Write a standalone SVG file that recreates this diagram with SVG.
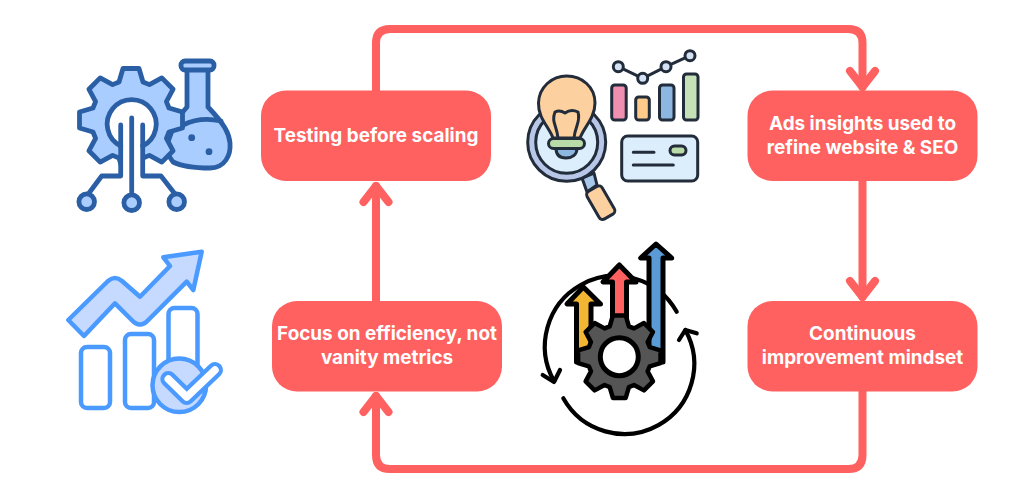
<svg xmlns="http://www.w3.org/2000/svg" width="1024" height="489" viewBox="0 0 1024 489">
<style>
.lbl{font-family:"Inter","Open Sans","Liberation Sans",sans-serif;font-weight:700;font-size:18.9px;fill:#fff;text-anchor:middle}
.nd{fill:#fe615f}
.cn{fill:none;stroke:#fe615f;stroke-width:8;stroke-linecap:round;stroke-linejoin:round}
.a{stroke:#2b5fa5;stroke-width:4.8;stroke-linejoin:round;stroke-linecap:round}
.b{stroke:#4a9aff;stroke-width:4.5;stroke-linejoin:round;stroke-linecap:round}
.c{stroke:#222c3a;stroke-width:3;stroke-linejoin:round;stroke-linecap:round}
.d{stroke:#000;stroke-width:5;stroke-linejoin:round;stroke-linecap:round}
.e{stroke:#000;stroke-width:4.2;stroke-linejoin:round;stroke-linecap:round;fill:none}
</style>
<defs>
<polygon id="gear" points="-12,-38 -8,-51.500 8,-51.500 12,-38 18.400,-35.400 30.800,-42.100 42.100,-30.800 35.400,-18.400 38,-12 51.500,-8 51.500,8 38,12 35.400,18.400 42.100,30.800 30.800,42.100 18.400,35.400 12,38 8,51.500 -8,51.500 -12,38 -18.400,35.400 -30.800,42.100 -42.100,30.800 -35.400,18.400 -38,12 -51.500,8 -51.500,-8 -38,-12 -35.400,-18.400 -42.100,-30.800 -30.800,-42.100 -18.400,-35.400"/>
</defs>
<rect width="1024" height="489" fill="#fff"/>
<g id="connectors">
<path class="cn" d="M376 91V43Q376 29 390 29H848.500Q862.500 29 862.500 43V87"/>
<path class="cn" d="M850 71L862.500 87L875 71"/>
<path class="cn" d="M862.500 181V297"/>
<path class="cn" d="M850 281L862.500 297L875 281"/>
<path class="cn" d="M862.500 391V455Q862.500 469 848.500 469H390Q376 469 376 455V396"/>
<path class="cn" d="M363.500 412L376 396L388.500 412"/>
<path class="cn" d="M376 301V186"/>
<path class="cn" d="M363.500 202L376 186L388.500 202"/>
</g>
<g id="node-testing">
<rect class="nd" x="261" y="90.500" width="230" height="90.500" rx="25"/>
<text class="lbl" x="376" y="142">Testing before scaling</text>
</g>
<g id="node-ads">
<rect class="nd" x="747.500" y="90.500" width="230" height="90.500" rx="25"/>
<text class="lbl" x="862.500" y="129.500">Ads insights used to</text>
<text class="lbl" x="862.500" y="153.500">refine website &amp; SEO</text>
</g>
<g id="node-focus">
<rect class="nd" x="272" y="301" width="230" height="90.500" rx="25"/>
<text class="lbl" x="387" y="340">Focus on efficiency, not</text>
<text class="lbl" x="387" y="364">vanity metrics</text>
</g>
<g id="node-continuous">
<rect class="nd" x="747.500" y="301" width="230" height="90.500" rx="25"/>
<text class="lbl" x="862.500" y="340">Continuous</text>
<text class="lbl" x="862.500" y="364">improvement mindset</text>
</g>
<g id="icon-gear-flask">
<path class="a" fill="#a9cdff" d="M187 69V107L176 120L165 150L173 162C185 168 200 168 210 168C225 168 231 155 230 143C229 133 225 125 208 107V69Z"/>
<rect class="a" fill="#a9cdff" x="181" y="61" width="33" height="9" rx="4"/>
<path class="a" fill="none" d="M183 125C195 119 208 118 221 121"/>
<circle cx="191.700" cy="137.700" r="3.400" fill="#2b5fa5"/>
<circle cx="209" cy="151.700" r="3.400" fill="#2b5fa5"/>
<use href="#gear" class="a" fill="#a9cdff" transform="translate(131 120)"/>
<path fill="#fff" d="M120.700 176V147L119 147A24.500 24.500 0 1 1 144 147L142.700 147V176Z"/>
<path class="a" fill="none" d="M120.700 146A24.500 24.500 0 1 1 142.700 146"/>
<path class="a" fill="none" d="M120.700 125V176H101.700L88.300 194"/>
<path class="a" fill="none" d="M142.700 125V176H161L175 194"/>
<path class="a" fill="none" d="M131.700 118V195"/>
<circle class="a" fill="#a9cdff" cx="86.700" cy="201.700" r="7.800"/>
<circle class="a" fill="#a9cdff" cx="131.700" cy="202.700" r="7.800"/>
<circle class="a" fill="#a9cdff" cx="176.700" cy="201.700" r="7.800"/>
</g>
<g id="icon-growth-check">
<rect class="b" fill="#fff" x="81" y="347" width="29" height="61" rx="6"/>
<rect class="b" fill="#fff" x="125" y="334" width="29" height="74" rx="6"/>
<rect class="b" fill="#fff" x="168.500" y="308" width="29" height="70" rx="6"/>
<path class="b" fill="#c6daff" d="M201.700 251.700L163.300 257.300L170 266L140 296.700L122 281Q115 275 108 281L68.300 320L84 336L115 303.300L131.700 320Q140 329 148.300 320L186.700 281.700L193.300 290Z"/>
<circle class="b" fill="#c6daff" cx="179.300" cy="385.300" r="26.800"/>
<path d="M168.300 379L186.700 397L215 370" fill="none" stroke="#4a9aff" stroke-width="16" stroke-linecap="round" stroke-linejoin="round"/>
<path d="M168.300 379L186.700 397L215 370" fill="none" stroke="#fff" stroke-width="7.500" stroke-linecap="round" stroke-linejoin="round"/>
</g>
<g id="icon-bulb-analytics">
<path class="c" fill="#a9c7e8" d="M582 178L594 173L597 185L587 192Z"/>
<rect class="c" fill="#fdd0a0" x="592" y="186.700" width="17.500" height="32" rx="4" transform="rotate(-30 600.700 202.700)"/>
<circle class="c" fill="#b8c6e8" cx="566.700" cy="142.300" r="39"/>
<circle class="c" fill="#dcedfb" cx="566.700" cy="142.300" r="31"/>
<path class="c" fill="#fdd0a0" d="M553 138C549 127 538 118 538.500 103C539 87 552 76 566.700 76C582 76 595 87 595 103C595 118 584 127 580 138Z"/>
<path class="c" fill="none" d="M558 138C557 126 551 122 555 112C559 110 562 111 565 113C569 110 574 110 578 112C581 122 575 126 574 138"/>
<path class="c" fill="#8cb7e0" d="M556 148H577C577 155 572 158 566 158C560 158 556 155 556 148Z"/>
<rect class="c" fill="#b9dba8" x="548.500" y="138.500" width="36" height="10" rx="5"/>
<rect class="c" fill="#f08fb0" x="611.700" y="85" width="14.500" height="35" rx="3"/>
<rect class="c" fill="#fdca8a" x="635.700" y="97" width="13.600" height="23" rx="3"/>
<rect class="c" fill="#8cb7e0" x="659.500" y="85" width="14.500" height="35" rx="3"/>
<rect class="c" fill="#c6e0b8" x="683.500" y="74" width="14.500" height="46" rx="3"/>
<path class="c" fill="none" d="M618.300 66.700L642.700 78.300L666 66.700L690 55.700"/>
<circle class="c" fill="#d5e2f5" cx="618.300" cy="66.700" r="5"/>
<circle class="c" fill="#d5e2f5" cx="642.700" cy="78.300" r="5"/>
<circle class="c" fill="#d5e2f5" cx="666" cy="66.700" r="5"/>
<circle class="c" fill="#d5e2f5" cx="690" cy="55.700" r="5"/>
<rect class="c" fill="#dcedfb" x="621.700" y="136" width="76" height="45" rx="6"/>
<rect class="c" fill="#b9dba8" x="670" y="146" width="16" height="9" rx="4.500"/>
<path class="c" fill="none" d="M633.300 152.300H654M633.300 165H673.300"/>
</g>
<g id="icon-gear-arrows">
<path class="e" d="M563.300 398.300A68 68 0 0 0 685.300 330"/>
<path class="e" d="M679 340L685.300 330L696.700 333.300"/>
<path class="e" d="M676.700 311.700A68 68 0 1 0 554 381"/>
<path class="e" d="M542.700 375L554 382L560 370"/>
<path class="d" fill="#f2b632" d="M583.300 287L567 304H576.500V362H591V304H600.500Z"/>
<path class="d" fill="#fe615f" d="M619.300 265L603 282H612.500V340H626.500V282H636Z"/>
<path class="d" fill="#5b9bd5" d="M656 244L640.700 258H649V362H663V258H671.700Z"/>
<use href="#gear" class="d" fill="#555" transform="translate(619.300 356.700) scale(.8)" style="stroke-width:5.600"/>
<circle class="d" fill="#fff" cx="619.300" cy="356.700" r="19"/>
</g>
</svg>
